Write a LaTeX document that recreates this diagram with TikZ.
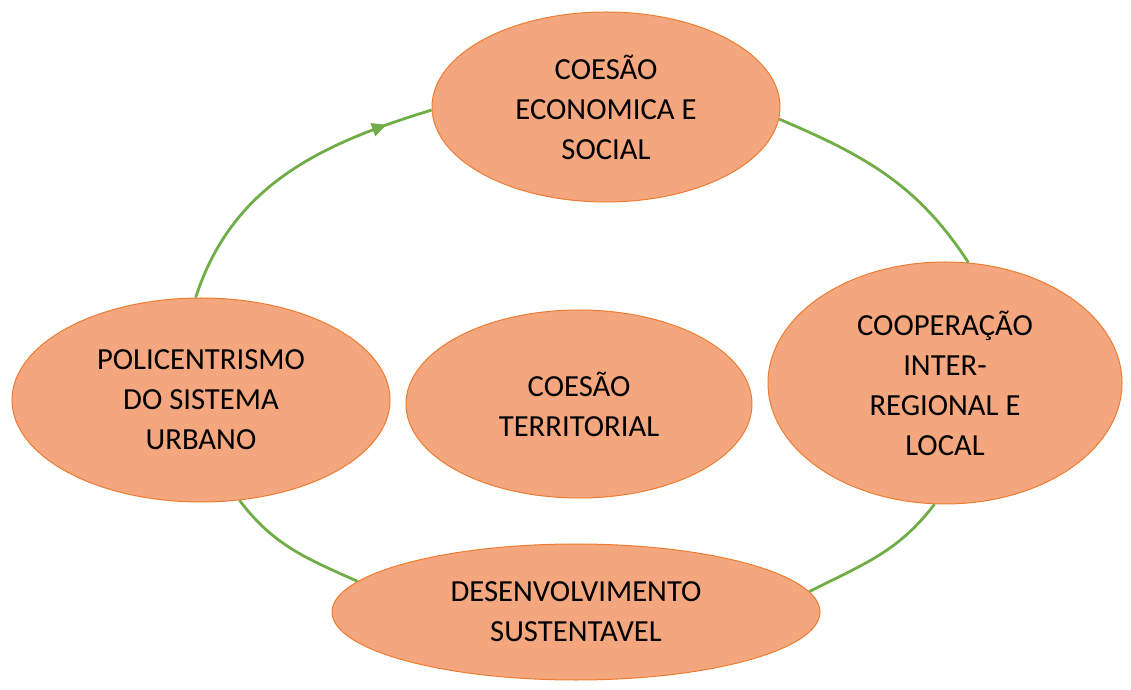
\documentclass[tikz,border=0pt]{standalone}
\usepackage{fontspec}
\setmainfont{Carlito}
\usepackage{xcolor}
\usetikzlibrary{shapes.geometric,arrows.meta,decorations.markings}

\definecolor{salmon}{HTML}{F4A67E}
\definecolor{rim}{HTML}{ED7D31}
\definecolor{leaf}{HTML}{70AD47}

\begin{document}
\begin{tikzpicture}[
    x=0.75pt, y=0.75pt,
    blob/.style={ellipse, draw=rim, line width=0.75pt, fill=salmon, inner sep=0pt,
        align=center, font=\fontsize{23}{30}\selectfont},
    link/.style={draw=leaf, line width=2.1pt},
    arrowmid/.style={postaction={decorate}, decoration={markings,
        mark=at position 0.85 with {\arrow[leaf]{Triangle[length=11pt,width=10pt]}}}}
]
\useasboundingbox (0,0) rectangle (1131,689);

% Ellipses
\node[blob, minimum width=261pt, minimum height=142.5pt] (econ) at (606,582) {COESÃO\\ECONOMICA E\\SOCIAL};
\node[blob, minimum width=283.5pt, minimum height=153pt] (poli) at (201,289) {POLICENTRISMO\\DO SISTEMA\\URBANO};
\node[blob, minimum width=259.5pt, minimum height=141pt] (terr) at (579,285) {COESÃO\\TERRITORIAL};
\node[blob, minimum width=265.5pt, minimum height=181.5pt] (coop) at (945,306) {COOPERAÇÃO\\INTER-\\REGIONAL E\\LOCAL};
\node[blob, minimum width=366pt, minimum height=102pt] (desen) at (576,77) {DESENVOLVIMENTO\\SUSTENTAVEL};

% Cycle
\draw[link, arrowmid] (poli.93) to[out=72, in=197] (econ.181);
\draw[link] (econ.356) to[out=-23, in=123] (coop.79);
\draw[link] (coop.265) to[out=233, in=27] (desen.5);
\draw[link] (poli.291) to[out=-53, in=156] (desen.172);

\end{tikzpicture}
\end{document}
